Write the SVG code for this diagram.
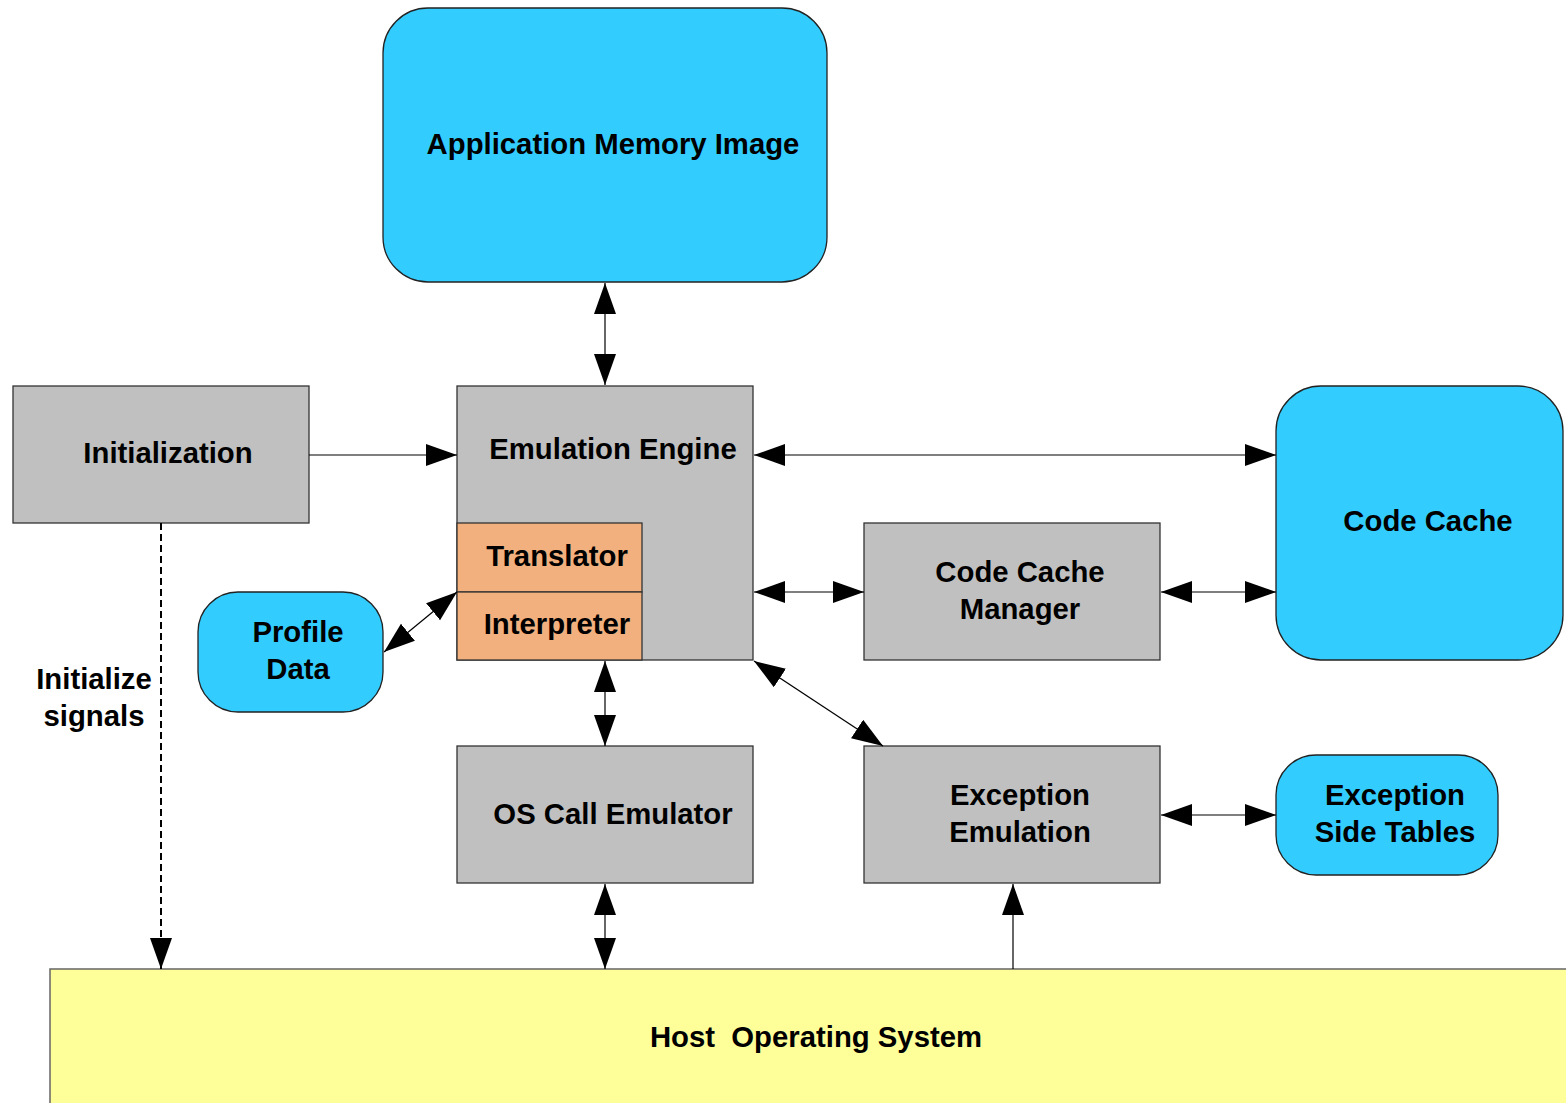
<svg xmlns="http://www.w3.org/2000/svg" width="1566" height="1103" viewBox="0 0 1566 1103">
<style>
text{font-family:"Liberation Sans",Arial,sans-serif;font-weight:bold;font-size:29.3px;fill:#000;text-anchor:middle}
.gray{fill:#c0c0c0;stroke:#333;stroke-width:1.3}
.cyan{fill:#33ccff;stroke:#222;stroke-width:1.3}
.orange{fill:#f2b07e;stroke:#333;stroke-width:1.3}
.yellow{fill:#ffff99;stroke:#666;stroke-width:1.5}
.c{stroke:#000;stroke-width:1.2;fill:none}
.dash{stroke:#000;stroke-width:2;stroke-dasharray:7,4;fill:none}
</style>
<defs>
<marker id="ah" markerUnits="userSpaceOnUse" markerWidth="32" markerHeight="24" viewBox="0 0 32 24" refX="31" refY="11" orient="auto-start-reverse">
<path d="M0,0 L31,11 L0,22 z" fill="#000"/>
</marker>
</defs>
<rect width="1566" height="1103" fill="#fff"/>
<g id="host"><rect class="yellow" x="50" y="969" width="1530" height="150"/><text x="816" y="1047" xml:space="preserve">Host  Operating System</text></g>
<g id="ami"><rect class="cyan" x="383" y="8" width="444" height="274" rx="45"/><text x="613" y="154">Application Memory Image</text></g>
<g id="ee"><rect class="gray" x="457" y="386" width="296" height="274"/><text x="613" y="459">Emulation Engine</text></g>
<g id="translator"><rect class="orange" x="457" y="523" width="185" height="69"/><text x="557" y="566">Translator</text></g>
<g id="interpreter"><rect class="orange" x="457" y="592" width="185" height="68"/><text x="557" y="634">Interpreter</text></g>
<g id="init"><rect class="gray" x="13" y="386" width="296" height="137"/><text x="168" y="463">Initialization</text></g>
<g id="profile"><rect class="cyan" x="198" y="592" width="185" height="120" rx="40"/><text x="298" y="642">Profile</text><text x="298" y="679">Data</text></g>
<g id="ccm"><rect class="gray" x="864" y="523" width="296" height="137"/><text x="1020" y="582">Code Cache</text><text x="1020" y="619">Manager</text></g>
<g id="cc"><rect class="cyan" x="1276" y="386" width="287" height="274" rx="45"/><text x="1428" y="531">Code Cache</text></g>
<g id="osc"><rect class="gray" x="457" y="746" width="296" height="137"/><text x="613" y="824">OS Call Emulator</text></g>
<g id="exc"><rect class="gray" x="864" y="746" width="296" height="137"/><text x="1020" y="805">Exception</text><text x="1020" y="842">Emulation</text></g>
<g id="est"><rect class="cyan" x="1276" y="755" width="222" height="120" rx="40"/><text x="1395" y="805">Exception</text><text x="1395" y="842">Side Tables</text></g>
<g id="initlabel"><text x="94" y="689">Initialize</text><text x="94" y="726">signals</text></g>
<g id="connectors">
<line class="c" x1="605" y1="283" x2="605" y2="385" marker-start="url(#ah)" marker-end="url(#ah)"/>
<line class="c" x1="309" y1="455" x2="457" y2="455" marker-end="url(#ah)"/>
<line class="c" x1="754" y1="455" x2="1276" y2="455" marker-start="url(#ah)" marker-end="url(#ah)"/>
<line class="c" x1="754" y1="592" x2="864" y2="592" marker-start="url(#ah)" marker-end="url(#ah)"/>
<line class="c" x1="1161" y1="592" x2="1276" y2="592" marker-start="url(#ah)" marker-end="url(#ah)"/>
<line class="c" x1="384" y1="652" x2="457" y2="592" marker-start="url(#ah)" marker-end="url(#ah)"/>
<line class="c" x1="605" y1="661" x2="605" y2="746" marker-start="url(#ah)" marker-end="url(#ah)"/>
<line class="c" x1="754" y1="661" x2="883" y2="746" marker-start="url(#ah)" marker-end="url(#ah)"/>
<line class="c" x1="605" y1="884" x2="605" y2="969" marker-start="url(#ah)" marker-end="url(#ah)"/>
<line class="c" x1="1013" y1="969" x2="1013" y2="884" marker-end="url(#ah)"/>
<line class="c" x1="1161" y1="815" x2="1276" y2="815" marker-start="url(#ah)" marker-end="url(#ah)"/>
<line class="dash" x1="161" y1="523" x2="161" y2="969" marker-end="url(#ah)"/>
</g>
</svg>
